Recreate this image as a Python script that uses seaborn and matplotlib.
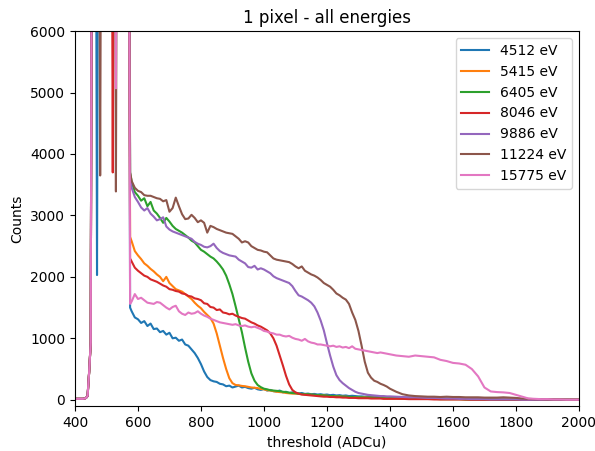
import numpy as np
import pandas as pd
import matplotlib
matplotlib.use("Agg")
import matplotlib.pyplot as plt
import seaborn as sns

# threshold scan grid: fine steps through the noise edge, coarser in the tail
threshold = np.concatenate([
    np.arange(400, 580, 5),
    np.arange(580, 1410, 10),
    np.arange(1420, 2020, 20),
])

energies = ["4512 eV", "5415 eV", "6405 eV", "8046 eV", "9886 eV", "11224 eV", "15775 eV"]

# counts per energy (noise region 400-575, step 5 / 580-1400, step 10 / 1420-2000, step 20)
counts_4512 = [
    15, 15, 15, 15, 15, 15, 20, 30, 60, 450, 930, 12000, 12000, 12000, 2030, 12000, 12000, 12000,
    12000, 12000, 12000, 12000, 12000, 12000, 12000, 12000, 12000, 12000, 12000, 12000, 12000, 12000,
    12000, 12000, 12000, 1500,
    1440, 1340, 1310, 1250, 1280, 1200, 1240, 1150, 1160, 1100, 1120, 1060, 1090, 1000, 1010, 960,
    980, 900, 880, 820, 760, 680, 580, 460, 370, 320, 300, 290, 260, 250, 220, 230, 200, 215, 230,
    200, 210, 190, 180, 195, 170, 160, 175, 150, 160, 140, 135, 150, 120, 130, 110, 120, 115, 100,
    110, 95, 100, 90, 95, 85, 90, 80, 85, 75, 80, 70, 75, 65, 70, 60, 65, 60, 55,
    55, 50, 55, 50, 45, 50, 45, 40, 45, 40,
    40, 35, 35, 30, 30, 25, 25, 20, 20, 15, 15, 10, 10, 10, 5, 5, 5, 5, 0, 0,
    0, 0, 0, 0, 0, 0, 0, 0, 0, 0,
]
counts_5415 = [
    15, 15, 15, 15, 15, 15, 20, 30, 60, 450, 930, 12000, 12000, 12000, 12000, 12000, 12000, 12000,
    12000, 12000, 12000, 12000, 12000, 12000, 12000, 12000, 12000, 12000, 12000, 12000, 12000, 12000,
    12000, 12000, 12000, 2650,
    2580, 2420, 2350, 2290, 2220, 2180, 2130, 2090, 2040, 2000, 1930, 2000, 1900, 1850, 1800, 1780,
    1760, 1720, 1680, 1640, 1580, 1530, 1490, 1430, 1380, 1330, 1240, 1080, 880, 680, 500, 350,
    270, 240, 235, 225, 220, 210, 200, 195, 190, 175, 170, 155, 150, 140, 130, 125, 120, 110, 105,
    100, 100, 95, 90, 90, 85, 80, 80, 75, 70, 70, 65, 60, 60, 55, 55, 50, 50, 45, 45, 40, 40,
    40, 40, 35, 35, 35, 30, 30, 30, 25, 25,
    25, 20, 20, 20, 15, 15, 15, 10, 10, 10, 10, 5, 5, 5, 5, 5, 0, 0, 0, 0,
    0, 0, 0, 0, 0, 0, 0, 0, 0, 0,
]
counts_6405 = [
    15, 15, 15, 15, 15, 15, 20, 30, 60, 450, 930, 12000, 12000, 12000, 12000, 12000, 12000, 12000,
    12000, 12000, 12000, 12000, 12000, 12000, 12000, 12000, 12000, 12000, 12000, 12000, 12000, 12000,
    12000, 12000, 12000, 3700,
    3550, 3380, 3320, 3240, 3280, 3150, 3220, 3080, 3030, 2960, 2880, 2960, 2900, 2830, 2780, 2750,
    2720, 2680, 2640, 2590, 2560, 2500, 2440, 2410, 2370, 2330, 2300, 2250, 2190, 2120, 2020, 1880,
    1720, 1520, 1310, 1100, 850, 620, 430, 310, 240, 205, 180, 170, 155, 150, 145, 140, 130, 125,
    115, 110, 105, 100, 95, 90, 90, 85, 80, 75, 75, 70, 65, 60, 60, 55, 55, 50, 50, 45, 45, 40, 40,
    40, 35, 35, 35, 30, 30, 30, 25, 25, 25,
    25, 20, 20, 20, 15, 15, 15, 10, 10, 10, 10, 5, 5, 5, 5, 5, 0, 0, 0, 0,
    0, 0, 0, 0, 0, 0, 0, 0, 0, 0,
]
counts_8046 = [
    15, 15, 15, 15, 15, 15, 20, 30, 60, 450, 930, 12000, 12000, 12000, 12000, 12000, 12000, 12000,
    12000, 12000, 12000, 12000, 12000, 12000, 3700, 12000, 12000, 12000, 12000, 12000, 12000, 12000,
    12000, 12000, 12000, 2300,
    2250, 2150, 2100, 2060, 2020, 2000, 1960, 1940, 1920, 1890, 1860, 1840, 1800, 1790, 1770, 1760,
    1730, 1720, 1690, 1680, 1650, 1640, 1620, 1570, 1560, 1510, 1500, 1460, 1470, 1420, 1410, 1390,
    1400, 1370, 1350, 1330, 1320, 1290, 1260, 1240, 1210, 1190, 1160, 1130, 1080, 1000, 880, 720,
    560, 390, 250, 160, 120, 100, 85, 80, 75, 70, 65, 60, 55, 50, 50, 45, 45, 40, 40, 35, 35, 30,
    30, 30, 25,
    25, 25, 25, 20, 20, 20, 20, 15, 15, 15,
    15, 15, 10, 10, 10, 10, 5, 5, 5, 5, 5, 5, 0, 0, 0, 0, 0, 0, 0, 0,
    0, 0, 0, 0, 0, 0, 0, 0, 0, 0,
]
counts_9886 = [
    15, 15, 15, 15, 15, 15, 20, 30, 60, 450, 930, 12000, 12000, 12000, 12000, 12000, 12000, 12000,
    12000, 12000, 12000, 12000, 12000, 12000, 12000, 12000, 12000, 12000, 12000, 12000, 12000, 12000,
    12000, 12000, 12000, 3600,
    3450, 3300, 3220, 3130, 3080, 3120, 3030, 2980, 2920, 2940, 2970, 2820, 2770, 2740, 2720, 2700,
    2680, 2660, 2640, 2620, 2570, 2540, 2520, 2490, 2480, 2500, 2540, 2470, 2420, 2390, 2370, 2350,
    2340, 2330, 2280, 2250, 2220, 2160, 2150, 2180, 2120, 2140, 2120, 2090, 2060, 2010, 1980, 1960,
    1940, 1920, 1900, 1850, 1770, 1700, 1680, 1650, 1620, 1580, 1520, 1420, 1290, 1130, 920, 720,
    540, 400, 320, 270, 230, 190, 160, 130, 110,
    100, 90, 80, 75, 70, 65, 60, 60, 55, 55,
    50, 45, 40, 40, 35, 30, 30, 25, 20, 20, 15, 15, 10, 10, 10, 5, 5, 5, 5, 5,
    0, 0, 0, 0, 0, 0, 0, 0, 0, 0,
]
counts_11224 = [
    15, 15, 15, 15, 15, 15, 20, 30, 60, 450, 930, 12000, 12000, 12000, 12000, 12000, 3650, 12000,
    12000, 12000, 12000, 12000, 12000, 12000, 12000, 12000, 3390, 12000, 12000, 12000, 12000, 12000,
    12000, 12000, 12000, 3700,
    3560, 3450, 3400, 3380, 3330, 3320, 3320, 3300, 3280, 3270, 3230, 3250, 3060, 3120, 3290, 3150,
    3020, 2940, 2950, 3010, 2960, 2890, 2920, 2880, 2720, 2830, 2810, 2780, 2760, 2740, 2720, 2710,
    2700, 2660, 2620, 2560, 2580, 2560, 2500, 2470, 2440, 2430, 2410, 2400, 2350, 2300, 2280, 2270,
    2260, 2250, 2240, 2210, 2170, 2140, 2170, 2100, 2070, 2040, 2020, 1990, 1950, 1900, 1870, 1840,
    1790, 1730, 1700, 1660, 1630, 1560, 1420, 1300, 1120,
    880, 620, 440, 360, 310, 290, 260, 240, 215, 180,
    130, 90, 70, 60, 55, 50, 50, 45, 50, 45, 45, 40, 40, 40, 35, 35, 35, 40, 35, 30,
    20, 15, 10, 10, 5, 5, 5, 0, 0, 0,
]
counts_15775 = [
    15, 15, 15, 15, 15, 15, 20, 30, 60, 450, 930, 12000, 12000, 12000, 12000, 12000, 12000, 12000,
    12000, 12000, 12000, 12000, 12000, 12000, 12000, 12000, 5070, 12000, 12000, 12000, 12000, 12000,
    12000, 12000, 12000, 1560,
    1600, 1720, 1640, 1660, 1620, 1580, 1570, 1560, 1590, 1580, 1540, 1500, 1470, 1510, 1530, 1440,
    1400, 1380, 1420, 1400, 1410, 1440, 1400, 1370, 1350, 1320, 1300, 1280, 1260, 1250, 1240, 1230,
    1220, 1230, 1210, 1200, 1210, 1190, 1180, 1190, 1170, 1150, 1120, 1110, 1090, 1080, 1060, 1060,
    1040, 1030, 1040, 1010, 990, 980, 960, 990, 950, 930, 920, 900, 900, 890, 880, 870, 880, 860,
    870, 850, 860, 840, 870, 830, 820,
    810, 800, 790, 780, 770, 760, 770, 760, 750, 740,
    720, 710, 700, 720, 710, 700, 690, 650, 630, 600, 590, 570, 500, 380, 200, 135, 125, 120, 110, 80,
    50, 20, 15, 10, 10, 5, 5, 0, 0, 0,
]

series = [counts_4512, counts_5415, counts_6405, counts_8046, counts_9886, counts_11224, counts_15775]
for s in series:
    assert len(s) == len(threshold), (len(s), len(threshold))

df = pd.concat(
    [pd.DataFrame({"threshold": threshold, "counts": s, "energy": e}) for e, s in zip(energies, series)],
    ignore_index=True,
)

fig, ax = plt.subplots(figsize=(5.95, 4.51), dpi=100)
fig.subplots_adjust(left=0.126, right=0.973, top=0.931, bottom=0.10)

sns.lineplot(
    data=df,
    x="threshold",
    y="counts",
    hue="energy",
    hue_order=energies,
    palette="tab10",
    estimator=None,
    errorbar=None,
    sort=False,
    linewidth=1.5,
    ax=ax,
)
sns.move_legend(ax, "upper right", title=None)

ax.set_xlim(400, 2000)
ax.set_ylim(-100, 6000)
ax.set_title("1 pixel - all energies")
ax.set_xlabel("threshold (ADCu)")
ax.set_ylabel("Counts")

fig.savefig("out.png", dpi=100)
plt.close(fig)
